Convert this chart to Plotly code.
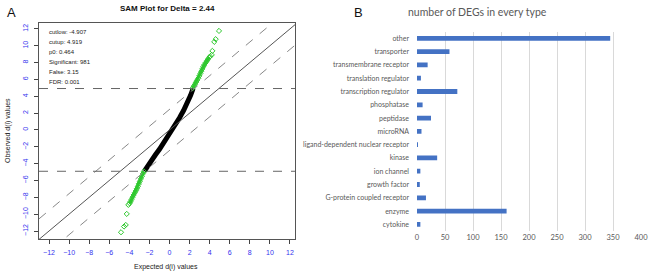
import plotly.graph_objects as go

W, H = 650, 275

# ---------------- Panel A data (SAM plot) ----------------
delta = 2.44
cutlow = -4.907
cutup = 4.919
sam_info = ["cutlow: -4.907", "cutup: 4.919", "p0: 0.464", "Significant: 981", "False: 3.15", "FDR: 0.001"]

# non-significant genes (dense black curve)
black_x = [-2.50, -2.20, -1.80, -1.40, -1.00, -0.60, -0.20, 0.20, 0.60, 1.00, 1.40, 1.80, 2.10, 2.35]
black_y = [-4.90, -4.30, -3.60, -2.95, -2.30, -1.60, -0.80, -0.05, 0.70, 1.45, 2.30, 3.25, 4.10, 4.92]

# significant up-regulated (green): dense run and sparse outliers
up_x = [2.31, 2.42, 2.53, 2.64, 2.75, 2.87, 2.97, 3.07, 3.17, 3.27, 3.37, 3.48, 3.60, 3.72, 3.84, 3.97]
up_y = [4.96, 5.20, 5.42, 5.66, 5.90, 6.14, 6.42, 6.70, 6.98, 7.25, 7.52, 7.75, 7.98, 8.20, 8.42, 8.64]
up_out_x = [4.05, 4.21, 4.27, 4.46, 4.60, 4.93]
up_out_y = [8.75, 8.91, 9.39, 10.46, 10.78, 11.76]

# significant down-regulated (green)
dn_x = [-2.55, -2.65, -2.75, -2.85, -2.95, -3.05, -3.15, -3.25, -3.35, -3.45, -3.57, -3.68, -3.78, -3.88, -3.97]
dn_y = [-4.92, -5.20, -5.50, -5.80, -6.10, -6.40, -6.70, -6.98, -7.22, -7.45, -7.72, -7.98, -8.25, -8.50, -8.72]
dn_out_x = [-4.10, -4.26, -4.36, -4.53, -4.83]
dn_out_y = [-8.90, -9.97, -11.28, -11.47, -12.15]

sam_ticks = [-12, -10, -8, -6, -4, -2, 0, 2, 4, 6, 8, 10, 12]

# ---------------- Panel B data (bar chart) ----------------
categories = ["other", "transporter", "transmembrane receptor", "translation regulator",
              "transcription regulator", "phosphatase", "peptidase", "microRNA",
              "ligand-dependent nuclear receptor", "kinase", "ion channel", "growth factor",
              "G-protein coupled receptor", "enzyme", "cytokine"]
counts = [345, 58, 19, 7, 72, 10, 25, 8, 1, 36, 6, 5, 16, 160, 6]
bar_ticks = [0, 50, 100, 150, 200, 250, 300, 350, 400]


def px(xp):
    return xp / W


def py(yp):
    return 1 - yp / H


XR = [-13.0, 12.5]
YR = [-12.95, 12.7]

fig = go.Figure()

GREEN = "#2ec82e"
gm = dict(symbol="diamond-open", size=4, color=GREEN, line=dict(width=1, color=GREEN))

fig.add_trace(go.Scatter(x=black_x, y=black_y, mode="lines",
                         line=dict(color="black", width=5), xaxis="x", yaxis="y",
                         showlegend=False, hoverinfo="skip"))
for xs, ys in ((up_x, up_y), (dn_x, dn_y)):
    fig.add_trace(go.Scatter(x=xs, y=ys, mode="lines+markers", line=dict(color=GREEN, width=3),
                             marker=gm, xaxis="x", yaxis="y", showlegend=False))
for xs, ys in ((up_out_x, up_out_y), (dn_out_x, dn_out_y)):
    fig.add_trace(go.Scatter(x=xs, y=ys, mode="markers", marker=gm,
                             xaxis="x", yaxis="y", showlegend=False))

fig.add_trace(go.Bar(y=categories, x=counts, orientation="h", width=0.36,
                     marker=dict(color="#4472c4", line=dict(width=0)),
                     xaxis="x2", yaxis="y2", showlegend=False))

shapes = []
shapes.append(dict(type="line", xref="x", yref="y", x0=XR[0], y0=XR[0], x1=YR[1], y1=YR[1],
                   line=dict(color="#555555", width=1)))
for d in (delta, -delta):
    shapes.append(dict(type="line", xref="x", yref="y", x0=XR[0], y0=XR[0] + d, x1=XR[1], y1=XR[1] + d,
                       line=dict(color="#888888", width=1, dash="dash")))
for c in (cutup, cutlow):
    shapes.append(dict(type="line", xref="x", yref="y", x0=XR[0], y0=c, x1=XR[1], y1=c,
                       line=dict(color="#666666", width=1, dash="dash")))

annotations = []
rows_y = [32, 41.7, 51.7, 62.3, 72.3, 82.3]
for t, yy in zip(sam_info, rows_y):
    annotations.append(dict(text=t, xref="paper", yref="paper", x=px(46.5), y=py(yy),
                            xanchor="left", yanchor="middle", showarrow=False,
                            font=dict(family="Liberation Sans", size=6, color="#222222")))
annotations += [
    dict(text="<b>SAM Plot for Delta = 2.44</b>", xref="paper", yref="paper", x=px(167), y=py(9),
         xanchor="center", yanchor="middle", showarrow=False,
         font=dict(family="Liberation Sans", size=8, color="#111111")),
    dict(text="Expected d(i) values", xref="paper", yref="paper", x=px(166), y=py(267),
         xanchor="center", yanchor="middle", showarrow=False,
         font=dict(family="Liberation Sans", size=7, color="#222222")),
    dict(text="Observed d(i) values", xref="paper", yref="paper", x=px(8), y=py(131), textangle=-90,
         xanchor="center", yanchor="middle", showarrow=False,
         font=dict(family="Liberation Sans", size=7, color="#222222")),
    dict(text="A", xref="paper", yref="paper", x=px(11), y=py(12),
         xanchor="center", yanchor="middle", showarrow=False,
         font=dict(family="Liberation Sans", size=13, color="#111111")),
    dict(text="B", xref="paper", yref="paper", x=px(358), y=py(12),
         xanchor="center", yanchor="middle", showarrow=False,
         font=dict(family="Liberation Sans", size=13, color="#111111")),
    dict(text="number of DEGs in every type", xref="paper", yref="paper", x=px(477), y=py(12),
         xanchor="center", yanchor="middle", showarrow=False,
         font=dict(family="Lato", size=10.5, color="#595959")),
]

fig.update_layout(
    width=W, height=H,
    margin=dict(l=0, r=0, t=0, b=0, autoexpand=False),
    paper_bgcolor="white", plot_bgcolor="white",
    shapes=shapes, annotations=annotations,
    xaxis=dict(domain=[px(39), px(295)], range=XR, anchor="y", automargin=False,
               tickmode="array", tickvals=sam_ticks, ticks="outside", ticklen=4, tickcolor="#444444",
               ticklabelstandoff=3,
               showgrid=False, zeroline=False, showline=True, mirror=True, linecolor="#555555", linewidth=1,
               tickfont=dict(family="Liberation Sans", size=7, color="#3333ee")),
    yaxis=dict(domain=[py(239), py(23)], range=YR, anchor="x", automargin=False,
               tickmode="array", tickvals=sam_ticks, ticks="outside", ticklen=4, tickcolor="#444444",
               tickangle=-90, ticklabelstandoff=3,
               showgrid=False, zeroline=False, showline=True, mirror=True, linecolor="#555555", linewidth=1,
               tickfont=dict(family="Liberation Sans", size=7, color="#3333ee")),
    xaxis2=dict(domain=[px(417), px(641)], range=[0, 400], anchor="y2", automargin=False,
                tickmode="array", tickvals=bar_ticks, showgrid=True, gridcolor="#d9d9d9", gridwidth=1,
                zeroline=False, showline=False, ticks="",
                tickfont=dict(family="Lato", size=7.5, color="#595959")),
    yaxis2=dict(domain=[py(231), py(31.7)], anchor="x2", autorange="reversed", automargin=False,
                type="category", showgrid=False, zeroline=False, showline=False, ticks="",
                ticklabelstandoff=7,
                tickfont=dict(family="Lato", size=7, color="#595959")),
)

fig.write_html("out.html", config={"displayModeBar": False},
               post_script="document.body.style.margin='0';document.documentElement.style.overflow='hidden';document.body.style.overflow='hidden';")
